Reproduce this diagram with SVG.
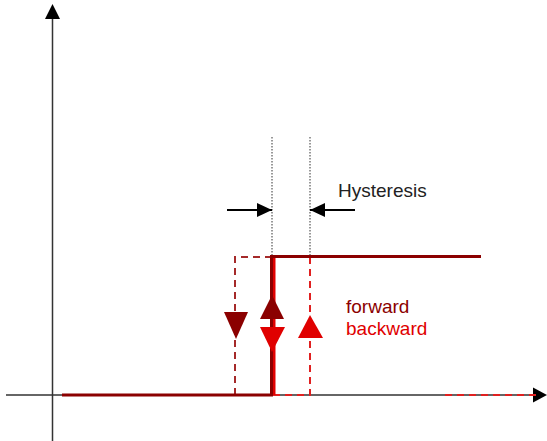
<svg xmlns="http://www.w3.org/2000/svg" width="547" height="441" viewBox="0 0 547 441">
<style>
.axis{stroke:#333;stroke-width:1.5;fill:none}
.dot{stroke:#333;stroke-width:1;stroke-dasharray:1.5 1.5;fill:none}
.fw{stroke:#8b0000;stroke-width:3;fill:none}
.bw{stroke:#e00000;stroke-width:3;fill:none}
.fwd{stroke:#a52a2a;stroke-width:2;stroke-dasharray:7 5;fill:none}
.bwd{stroke:#e02020;stroke-width:2;stroke-dasharray:7 5;fill:none}
.lbl{font-family:"Liberation Sans",Arial,sans-serif;font-size:19px}
</style>
<defs>
<marker id="ah" markerWidth="15" markerHeight="14" refX="15" refY="7" orient="auto" markerUnits="userSpaceOnUse"><path d="M0,0 L15,7 L0,14 Z" fill="#000"/></marker>
</defs>
<g id="axes">
<line class="axis" x1="52.5" y1="441" x2="52.5" y2="18"/>
<path d="M52.5,4 L45,19 L60,19 Z" fill="#000"/>
<line class="axis" x1="6" y1="395" x2="534" y2="395"/>
<path d="M547,395 L533,387.5 L533,402.5 Z" fill="#000"/>
</g>
<g id="connectors">
<line class="dot" x1="272" y1="137" x2="272" y2="256"/>
<line class="dot" x1="310" y1="137" x2="310" y2="256"/>
<line stroke="#000" stroke-width="1.8" x1="227" y1="210" x2="272" y2="210" marker-end="url(#ah)"/>
<line stroke="#000" stroke-width="1.8" x1="355" y1="210" x2="310" y2="210" marker-end="url(#ah)"/>
<polyline class="fwd" points="235,395 235,257 272,257"/>
<polyline class="bwd" points="310,257 310,395 272,395"/>
<line class="bwd" x1="445" y1="395" x2="538" y2="395"/>
<line class="bw" x1="274" y1="395" x2="274" y2="257"/>
<polyline class="fw" points="62,395 271.5,395 271.5,256.5 481,256.5"/>
</g>
<g id="triangles">
<path d="M224,312 L248,312 L236,339 Z" fill="#8b0000"/>
<path d="M272,295 L284,319 L260,319 Z" fill="#8b0000"/>
<path d="M260,327 L285,327 L272,352 Z" fill="#e00000"/>
<path d="M310,315 L323,338 L298,338 Z" fill="#e00000"/>
</g>
<g id="labels">
<text class="lbl" x="338" y="197" fill="#222">Hysteresis</text>
<text class="lbl" x="346" y="313" fill="#8b0000">forward</text>
<text class="lbl" x="346" y="335" fill="#e00000">backward</text>
</g>
</svg>
